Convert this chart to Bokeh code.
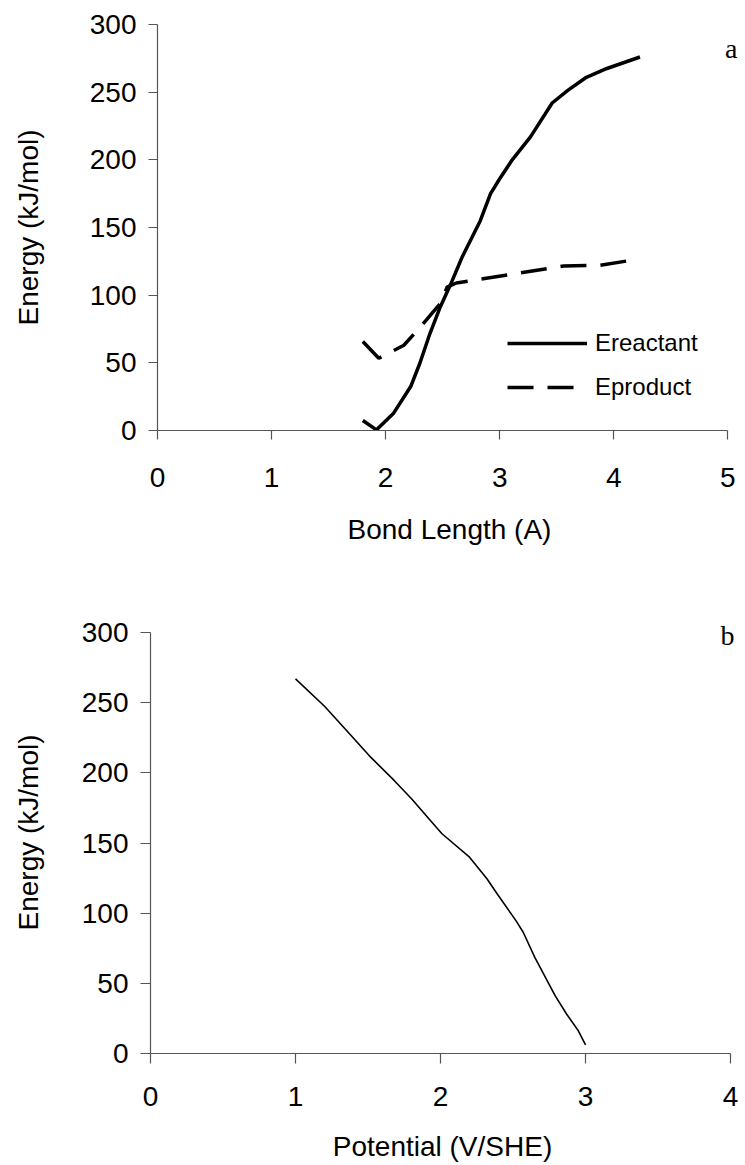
from bokeh.plotting import figure
from bokeh.layouts import column
from bokeh.models import Range1d, Legend, LegendItem, Label, FixedTicker
from bokeh.embed import file_html
from bokeh.resources import INLINE

# Panel a: energy vs bond length
reactant_x = [1.80, 1.92, 2.07, 2.22, 2.30, 2.39, 2.48, 2.57, 2.67, 2.83, 2.92, 3.00, 3.11, 3.27, 3.46, 3.60, 3.76, 3.94, 4.23]
reactant_y = [7.4, 0.5, 12.8, 32.5, 49.7, 72.0, 91.5, 108.0, 128.0, 155.0, 175.0, 186.0, 200.0, 217.0, 242.0, 251.5, 261.0, 267.5, 276.0]
product_x = [1.80, 1.94, 2.16, 2.33, 2.48, 2.54, 2.62, 3.15, 3.56, 3.88, 4.17]
product_y = [65.7, 53.4, 63.0, 79.0, 94.0, 106.0, 109.0, 116.0, 121.6, 122.0, 126.0]
a_xticks = [0, 1, 2, 3, 4, 5]
a_yticks = [0, 50, 100, 150, 200, 250, 300]

# Panel b: energy vs potential
potential = [1.00, 1.20, 1.38, 1.52, 1.68, 1.80, 1.93, 2.01, 2.20, 2.32, 2.39, 2.52, 2.57, 2.65, 2.79, 2.87, 2.95, 3.00]
energy_b = [267.0, 247.5, 227.0, 211.0, 194.6, 181.6, 166.0, 156.6, 139.9, 124.5, 113.8, 94.7, 86.4, 68.5, 41.2, 28.0, 16.2, 6.2]
b_xticks = [0, 1, 2, 3, 4]
b_yticks = [0, 50, 100, 150, 200, 250, 300]

FONT = "Liberation Sans"
AXIS_COLOR = "#555555"


def style(p, xticks, yticks, xb, yb):
    p.xgrid.visible = False
    p.ygrid.visible = False
    p.outline_line_color = None
    p.xaxis.ticker = FixedTicker(ticks=xticks)
    p.yaxis.ticker = FixedTicker(ticks=yticks)
    p.xaxis.bounds = xb
    p.yaxis.bounds = yb
    for ax in (p.xaxis[0], p.yaxis[0]):
        ax.axis_line_color = AXIS_COLOR
        ax.axis_line_width = 1.2
        ax.major_tick_line_color = AXIS_COLOR
        ax.major_tick_line_width = 1.2
        ax.major_tick_in = 0
        ax.major_tick_out = 9
        ax.minor_tick_line_color = None
        ax.major_label_text_font = FONT
        ax.major_label_text_font_size = "28px"
        ax.major_label_text_color = "black"
        ax.axis_label_text_font = FONT
        ax.axis_label_text_font_size = "28px"
        ax.axis_label_text_font_style = "normal"
        ax.axis_label_text_color = "black"
    p.yaxis.major_label_standoff = 12


# ---- top panel ----
p1 = figure(width=745, height=580, x_range=Range1d(0, 5.12), y_range=Range1d(0, 300),
            output_backend="svg", toolbar_location=None,
            min_border_left=157, min_border_right=4, min_border_top=24, min_border_bottom=150,
            x_axis_label="Bond Length (A)", y_axis_label="Energy (kJ/mol)")
style(p1, a_xticks, a_yticks, (0, 5), (0, 300))
p1.xaxis.major_label_standoff = 28
p1.xaxis.axis_label_standoff = 24
p1.yaxis.axis_label_standoff = 43
r1 = p1.line(reactant_x, reactant_y, line_color="black", line_width=3.5)
r2 = p1.line(product_x, product_y, line_color="black", line_width=3.5, line_dash="26 14")
leg = Legend(items=[LegendItem(label="Ereactant", renderers=[r1]),
                    LegendItem(label="Eproduct", renderers=[r2])],
             location=(350, 21), orientation="vertical",
             glyph_width=80, glyph_height=44, label_height=44, spacing=0,
             label_standoff=8, padding=0, margin=0,
             label_text_font=FONT, label_text_font_size="24px", label_text_color="black",
             border_line_alpha=0, background_fill_alpha=0)
p1.add_layout(leg)
p1.add_layout(Label(x=4.975, y=282.5, text="a", text_font="Liberation Serif",
                    text_font_size="28px", text_color="black", text_baseline="alphabetic"))

# ---- bottom panel ----
p2 = figure(width=752, height=585, x_range=Range1d(0, 4.027), y_range=Range1d(0, 315),
            output_backend="svg", toolbar_location=None,
            min_border_left=150, min_border_right=0, min_border_top=31, min_border_bottom=112,
            x_axis_label="Potential (V/SHE)", y_axis_label="Energy (kJ/mol)")
p2.margin = (0, 0, 0, -7)
style(p2, b_xticks, b_yticks, (0, 4), (0, 300))
p2.xaxis.major_tick_out = 10
p2.yaxis.major_tick_out = 10
p2.xaxis.major_label_standoff = 23
p2.xaxis.axis_label_standoff = 22
p2.yaxis.axis_label_standoff = 35
p2.line(potential, energy_b, line_color="black", line_width=1.6)
p2.add_layout(Label(x=3.93, y=298, text="b", text_font="Liberation Serif",
                    text_font_size="28px", text_color="black", text_baseline="alphabetic"))

layout = column(p1, p2, spacing=0)
open("out.html", "w").write(file_html(layout, INLINE))
